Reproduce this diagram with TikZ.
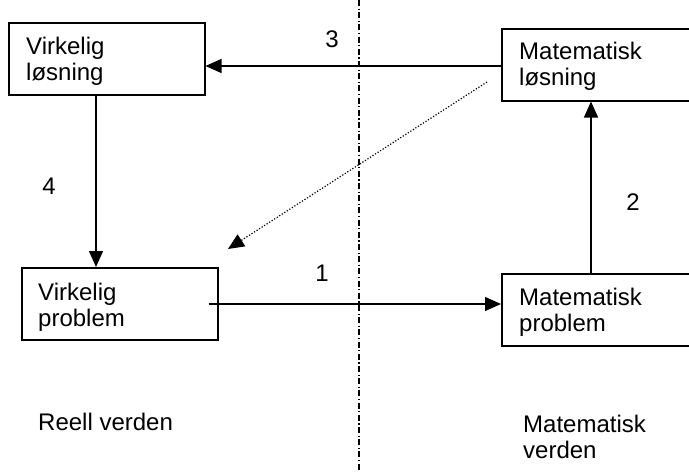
\documentclass[tikz,border=0pt]{standalone}
\usepackage{fontspec}
\setmainfont{Liberation Sans}
\usetikzlibrary{arrows.meta}
\begin{document}
\begin{tikzpicture}[x=1pt,y=-1pt,
  box/.style={draw, line width=1.5pt, minimum width=196pt, minimum height=72pt,
    inner sep=0pt, anchor=north west},
  wbox/.style={draw, line width=1.5pt, minimum width=200pt, minimum height=72pt,
    inner sep=0pt, anchor=north west},
  txt/.style={anchor=north west, inner sep=0pt, align=left,
    font=\fontsize{24}{26}\selectfont},
  num/.style={inner sep=0pt, font=\fontsize{24}{26}\selectfont},
  arr/.style={line width=1.3pt, -{Triangle[length=16pt,width=14pt]}},
  dotarr/.style={line width=1.2pt, dash pattern=on 1.2pt off 1.8pt,
    -{Triangle[length=16pt,width=14pt]}},
  divider/.style={line width=1.1pt, dash pattern=on 6pt off 2.5pt on 1.2pt off 2.5pt}]
\useasboundingbox (0,0) rectangle (689,472);
\fill[white] (0,0) rectangle (689,472);
\clip (0,0) rectangle (689,472);

% divider between the two worlds
\coordinate (dtop) at (359,0);
\coordinate (dbot) at (359,472);
\draw[divider] (dtop) -- (dbot);

% the four boxes
\node[box]  (vl) at (8,22)   {};
\node[wbox] (ml) at (501,28) {};
\node[box]  (vp) at (21,267) {};
\node[wbox] (mp) at (501,273) {};

\node[txt] (vlt) at (26,37)  {Virkelig\\løsning};
\node[txt] (mlt) at (519,42) {Matematisk\\løsning};
\node[txt] (vpt) at (38,283) {Virkelig\\problem};
\node[txt] (mpt) at (519,288) {Matematisk\\problem};

% connectors
\draw[arr] (ml.west |- 0,66) -- (vl.east |- 0,66);
\draw[arr] (vl.south -| 96,0) -- (vp.north -| 96,0);
\draw[arr] (mp.north -| 591,0) -- (ml.south -| 591,0);
\draw[arr] ([xshift=-10pt]vp.east |- 0,304) -- (mp.west |- 0,304);
\coordinate (ds) at (487,82);
\coordinate (de) at (228,249);
\draw[dotarr] (ds) -- (de);

% step numbers
\node[num] (n3) at (332,39)  {3};
\node[num] (n4) at (49,186)  {4};
\node[num] (n2) at (633,202) {2};
\node[num] (n1) at (322,273) {1};

% world labels
\node[txt] (rv) at (38,413)  {Reell verden};
\node[txt] (mv) at (523,415) {Matematisk\\verden};
\end{tikzpicture}
\end{document}
